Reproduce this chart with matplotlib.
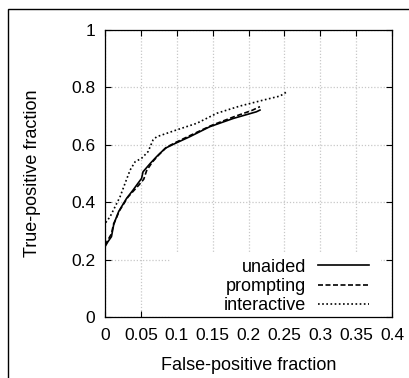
import matplotlib
matplotlib.use("Agg")
import matplotlib.pyplot as plt
from matplotlib.patches import Rectangle

# ---- data ----
fpf_unaided = [0.000, 0.004, 0.009, 0.012, 0.014, 0.019, 0.023, 0.030, 0.039, 0.046,
               0.051, 0.053, 0.063, 0.072, 0.084, 0.098, 0.118, 0.146, 0.179, 0.211, 0.216]
tpf_unaided = [0.245, 0.262, 0.280, 0.320, 0.335, 0.367, 0.384, 0.413, 0.442, 0.466,
               0.483, 0.506, 0.535, 0.559, 0.588, 0.605, 0.628, 0.663, 0.692, 0.715, 0.721]

fpf_prompting = [0.000, 0.004, 0.009, 0.012, 0.015, 0.020, 0.025, 0.032, 0.040, 0.048,
                 0.054, 0.058, 0.066, 0.075, 0.086, 0.100, 0.120, 0.148, 0.180, 0.205, 0.216]
tpf_prompting = [0.250, 0.268, 0.290, 0.325, 0.340, 0.370, 0.390, 0.418, 0.440, 0.462,
                 0.480, 0.510, 0.540, 0.565, 0.592, 0.610, 0.634, 0.667, 0.698, 0.720, 0.733]

fpf_interactive = [0.001, 0.007, 0.014, 0.021, 0.028, 0.035, 0.042, 0.051, 0.060, 0.067,
                   0.072, 0.100, 0.128, 0.156, 0.188, 0.221, 0.244, 0.255]
tpf_interactive = [0.329, 0.349, 0.384, 0.419, 0.466, 0.512, 0.541, 0.553, 0.576, 0.617,
                   0.628, 0.652, 0.675, 0.710, 0.735, 0.756, 0.770, 0.787]

x_ticks = [0, 0.05, 0.1, 0.15, 0.2, 0.25, 0.3, 0.35, 0.4]
x_tick_labels = ["0", "0.05", "0.1", "0.15", "0.2", "0.25", "0.3", "0.35", "0.4"]
y_ticks = [0, 0.2, 0.4, 0.6, 0.8, 1.0]
y_tick_labels = ["0", "0.2", "0.4", "0.6", "0.8", "1"]

series = [
    ("unaided", fpf_unaided, tpf_unaided, "-"),
    ("prompting", fpf_prompting, tpf_prompting, (0, (3, 1.5))),
    ("interactive", fpf_interactive, tpf_interactive, (0, (1, 1.5))),
]

plt.rcParams['font.family'] = ['Liberation Sans', 'DejaVu Sans']

W, H = 409, 378
fig = plt.figure(figsize=(W / 100, H / 100), dpi=100)
ax = fig.add_axes([105 / W, 1 - 317 / H, 287 / W, 287 / H])

# figure border frame (partly cut off at right/bottom like the reference)
fig.patches.append(Rectangle((8 / W, -0.2), 1.2, 1.2 - 9 / H,
                             transform=fig.transFigure, fill=False,
                             edgecolor="black", linewidth=1.0))

ax.set_axisbelow(True)
ax.grid(True, color="#c8c8c8", linestyle=(0, (1, 1.5)), linewidth=0.9)

for name, xs, ys, ls in series:
    ax.plot(xs, ys, color="black", linestyle=ls, linewidth=1.2, label=name, zorder=2)

ax.set_xlim(0, 0.4)
ax.set_ylim(0, 1)
ax.set_xticks(x_ticks)
ax.set_xticklabels(x_tick_labels)
ax.set_yticks(y_ticks)
ax.set_yticklabels(y_tick_labels)
ax.tick_params(direction="in", length=4, width=0.8, top=True, right=True,
               labelsize=12.5, colors="black")
ax.tick_params(axis="x", pad=8)
ax.tick_params(axis="y", pad=7)
for sp in ax.spines.values():
    sp.set_linewidth(0.9)

ax.set_xlabel("False-positive fraction", fontsize=13, labelpad=10)
ax.set_ylabel("True-positive fraction", fontsize=13, labelpad=22)

# opaque key area (gnuplot-style), hides grid behind the legend
ax.add_patch(Rectangle((0.226, 0.0), 0.735, 0.222, transform=ax.transAxes,
                       facecolor="white", edgecolor="none", zorder=0.9))

leg = ax.legend(loc="lower right", bbox_to_anchor=(0.92, 0.01), frameon=False,
                markerfirst=False, fontsize=13, handlelength=2.8, handletextpad=0.7,
                borderpad=0, borderaxespad=0, labelspacing=0.12)
for col in leg._legend_handle_box.get_children():
    col.align = "right"

fig.savefig("out.png", dpi=100)
